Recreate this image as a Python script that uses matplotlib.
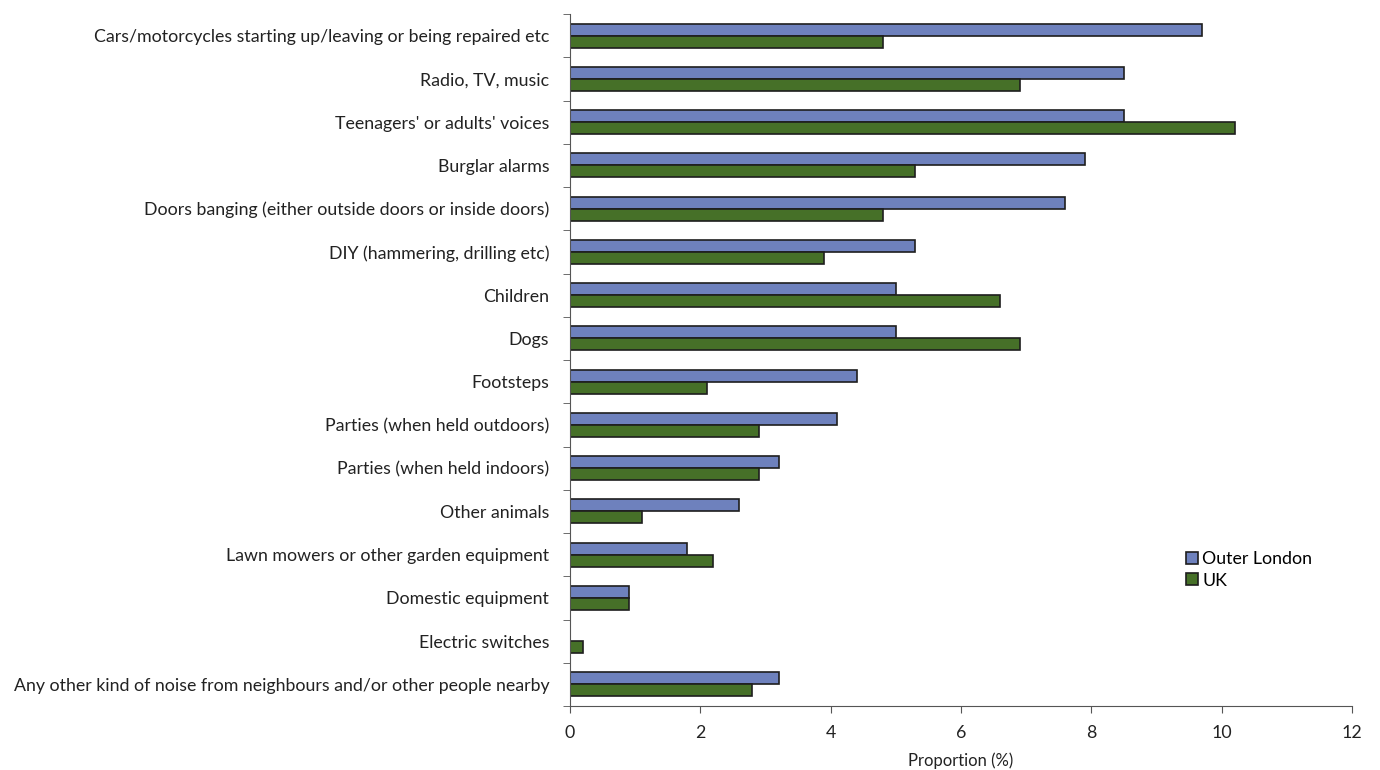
import numpy as np
import matplotlib
matplotlib.use("Agg")
import matplotlib.pyplot as plt

plt.rcParams['font.family'] = ['Lato', 'DejaVu Sans']

categories = [
    "Cars/motorcycles starting up/leaving or being repaired etc",
    "Radio, TV, music",
    "Teenagers' or adults' voices",
    "Burglar alarms",
    "Doors banging (either outside doors or inside doors)",
    "DIY (hammering, drilling etc)",
    "Children",
    "Dogs",
    "Footsteps",
    "Parties (when held outdoors)",
    "Parties (when held indoors)",
    "Other animals",
    "Lawn mowers or other garden equipment",
    "Domestic equipment",
    "Electric switches",
    "Any other kind of noise from neighbours and/or other people nearby",
]
outer_london = [9.7, 8.5, 8.5, 7.9, 7.6, 5.3, 5.0, 5.0, 4.4, 4.1, 3.2, 2.6, 1.8, 0.9, 0.0, 3.2]
uk = [4.8, 6.9, 10.2, 5.3, 4.8, 3.9, 6.6, 6.9, 2.1, 2.9, 2.9, 1.1, 2.2, 0.9, 0.2, 2.8]

blue = "#6e81bd"
green = "#467028"
edge = "#1e1e1e"
fs = 12.8

fig = plt.figure(figsize=(13.8, 7.7), dpi=100)
ax = fig.add_axes([570 / 1380, 1 - 706 / 770, (1352 - 570) / 1380, (706 - 14) / 770])

y = np.arange(len(categories))
h = 0.277
ax.barh(y - h / 2, outer_london, height=h, color=blue, edgecolor=edge, linewidth=1.2, label="Outer London")
ax.barh(y + h / 2, uk, height=h, color=green, edgecolor=edge, linewidth=1.2, label="UK")

ax.set_ylim(len(categories) - 0.5, -0.5)
ax.set_xlim(0, 12)
ax.set_xticks(np.arange(0, 13, 2))
ax.set_yticks(y)
ax.set_yticklabels(categories, fontsize=fs, color="#222222")
ax.set_yticks(np.arange(-0.5, len(categories), 1), minor=True)
ax.tick_params(axis='y', which='major', length=0, pad=15)
ax.tick_params(axis='y', which='minor', length=5, color="#555555", direction='out')
ax.tick_params(axis='x', length=5, color="#555555", labelsize=fs, labelcolor="#222222", pad=9)

for s in ['top', 'right']:
    ax.spines[s].set_visible(False)
ax.spines['left'].set_color("#555555")
ax.spines['bottom'].set_color("#555555")

ax.set_xlabel("Proportion (%)", fontsize=fs - 0.8, color="#222222", labelpad=8)

ax.legend(loc='upper left', bbox_to_anchor=(0.779, 0.234), frameon=False, fontsize=fs,
          handlelength=0.65, handleheight=0.65, handletextpad=0.25, labelspacing=0.3,
          borderaxespad=0)

fig.savefig("out.png", dpi=100)
